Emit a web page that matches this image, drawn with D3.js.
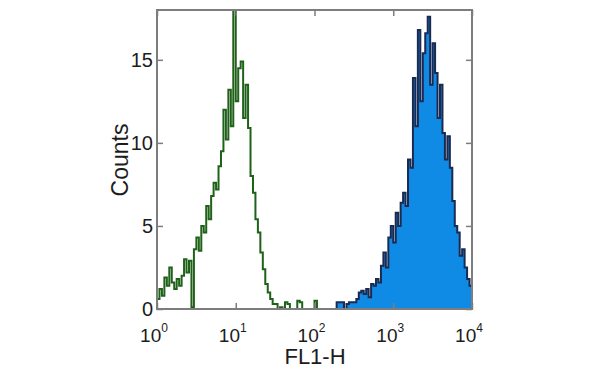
<!DOCTYPE html>
<html>
<head>
<meta charset="utf-8">
<script src="https://cdn.jsdelivr.net/npm/d3@7"></script>
<style>
  body { margin: 0; background: #fff; }
  text { font-family: "Liberation Sans", Arial, sans-serif; fill: #1c1c1c; }
</style>
</head>
<body>
<div class="container"></div>
<script>
// histogram channels: 32 bins per decade on the FL1-H log axis
const binsPerDecade = 32;

// isotype control (green line), starts at bin 0 (10^0)
const isotypeCounts = [
  0.6, 1.2, 0.8, 1.9, 1.4, 2.5, 1.6, 1.2, 1.8, 1.4,
  2.0, 3.0, 2.2, 2.9, 0.1, 3.6, 4.3, 3.5, 5.0, 4.6,
  6.2, 5.4, 6.8, 7.6, 7.2, 8.6, 9.5, 12.0, 10.2, 13.2,
  11.0, 18.5, 12.5, 14.5, 14.9, 11.5, 13.5, 10.9, 8.0, 7.0,
  5.4, 4.6, 3.4, 2.4, 1.5, 1.0, 0.6, 0.3, 0.3, 0,
  0.1, 0, 0.4, 0.3, 0, 0, 0, 0.5, 0.4, 0,
  0, 0, 0, 0, 0.5, 0
];
const isotypeStartBin = 0;

// stained sample (blue filled), starts at bin 72
const stainedCounts = [
  0, 0.4, 0.4, 0.4, 0, 0.3, 0.4, 0.4, 0.4, 0.6,
  1.0, 1.1, 0.9, 1.2, 0.7, 1.5, 1.4, 1.8, 1.6, 2.6,
  3.4, 2.5, 4.3, 5.0, 4.0, 5.8, 5.0, 6.4, 7.0, 6.2,
  9.0, 8.5, 13.9, 11.0, 16.8, 12.5, 15.4, 16.6, 17.6, 13.5,
  16.0, 14.2, 11.5, 13.5, 10.6, 9.0, 10.4, 8.5, 6.5, 5.0,
  4.6, 3.2, 3.6, 2.5, 1.8, 1.4, 1.2
];
const stainedStartBin = 72;

const xTickExps = [0, 1, 2, 3, 4];
const yTicks = [0, 5, 10, 15];
const xTitle = "FL1-H";
const yTitle = "Counts";

const w = 600, h = 374;
const plotLeft = 157, plotRight = 472, plotTop = 10, plotBottom = 309;

const svg = d3.select(".container").append("svg")
  .attr("width", w).attr("height", h);

const xScale = d3.scaleLog().domain([1, 1e4]).range([plotLeft, plotRight]);
const yScale = d3.scaleLinear().domain([0, 18]).range([plotBottom, plotTop]);

svg.append("clipPath").attr("id", "plot-clip")
  .append("rect").attr("x", plotLeft).attr("y", plotTop)
  .attr("width", plotRight - plotLeft).attr("height", plotBottom - plotTop);

// turn counts into step points (left edge of each bin + closing edge)
function toSteps(counts, start) {
  const pts = counts.map((c, i) => [Math.pow(10, (start + i) / binsPerDecade), c]);
  pts.push([Math.pow(10, (start + counts.length) / binsPerDecade), counts[counts.length - 1]]);
  return pts;
}

const stained = toSteps(stainedCounts, stainedStartBin);
const isotype = toSteps(isotypeCounts, isotypeStartBin);

const plot = svg.append("g").attr("clip-path", "url(#plot-clip)");

const area = d3.area()
  .x(d => xScale(d[0]))
  .y0(yScale(0))
  .y1(d => yScale(d[1]))
  .curve(d3.curveStepAfter);

const line = d3.line()
  .x(d => xScale(d[0]))
  .y(d => yScale(d[1]))
  .curve(d3.curveStepAfter);

plot.append("path")
  .datum(stained)
  .attr("d", area)
  .attr("fill", "#0f8be6");

plot.append("path")
  .datum(stained)
  .attr("d", line)
  .attr("fill", "none")
  .attr("stroke", "#1a2a50")
  .attr("stroke-width", 2);

plot.append("path")
  .datum(isotype)
  .attr("d", line)
  .attr("fill", "none")
  .attr("stroke", "#1f6119")
  .attr("stroke-width", 2);

// frame with inward ticks on all four sides
const tickVals = xTickExps.map(e => Math.pow(10, e));
const axisColor = "#7d7d7d";

const axes = [
  svg.append("g").attr("transform", "translate(0," + plotBottom + ")")
    .call(d3.axisBottom(xScale).tickValues(tickVals).tickSize(-6).tickFormat("")),
  svg.append("g").attr("transform", "translate(0," + plotTop + ")")
    .call(d3.axisTop(xScale).tickValues(tickVals).tickSize(-6).tickFormat("")),
  svg.append("g").attr("transform", "translate(" + plotLeft + ",0)")
    .call(d3.axisLeft(yScale).tickValues(yTicks).tickSize(-6).tickFormat("")),
  svg.append("g").attr("transform", "translate(" + plotRight + ",0)")
    .call(d3.axisRight(yScale).tickValues(yTicks).tickSize(-6).tickFormat(""))
];
axes.forEach(g => {
  g.select(".domain").remove();
  g.selectAll("line").attr("stroke", axisColor).attr("stroke-width", 1.5);
});

svg.append("rect")
  .attr("x", plotLeft).attr("y", plotTop)
  .attr("width", plotRight - plotLeft).attr("height", plotBottom - plotTop)
  .attr("fill", "none")
  .attr("stroke", axisColor)
  .attr("stroke-width", 2);

// x tick labels: 10 with superscript exponent
const xLabels = svg.selectAll(".xlab").data(xTickExps).enter()
  .append("text")
  .attr("class", "xlab")
  .attr("x", d => xScale(Math.pow(10, d)) - 3)
  .attr("y", 342)
  .attr("text-anchor", "middle")
  .style("font-size", "19px");
xLabels.append("tspan").text("10");
xLabels.append("tspan")
  .attr("dy", -10)
  .style("font-size", "12px")
  .text(d => d);

svg.selectAll(".ylab").data(yTicks).enter()
  .append("text")
  .attr("class", "ylab")
  .attr("x", 153)
  .attr("y", d => yScale(d) + 7)
  .attr("text-anchor", "end")
  .style("font-size", "20px")
  .text(d => d);

svg.append("text")
  .attr("x", 315).attr("y", 364)
  .attr("text-anchor", "middle")
  .style("font-size", "22px")
  .text(xTitle);

svg.append("text")
  .attr("transform", "translate(128,160) rotate(-90)")
  .attr("text-anchor", "middle")
  .style("font-size", "23px")
  .text(yTitle);
</script>
</body>
</html>
